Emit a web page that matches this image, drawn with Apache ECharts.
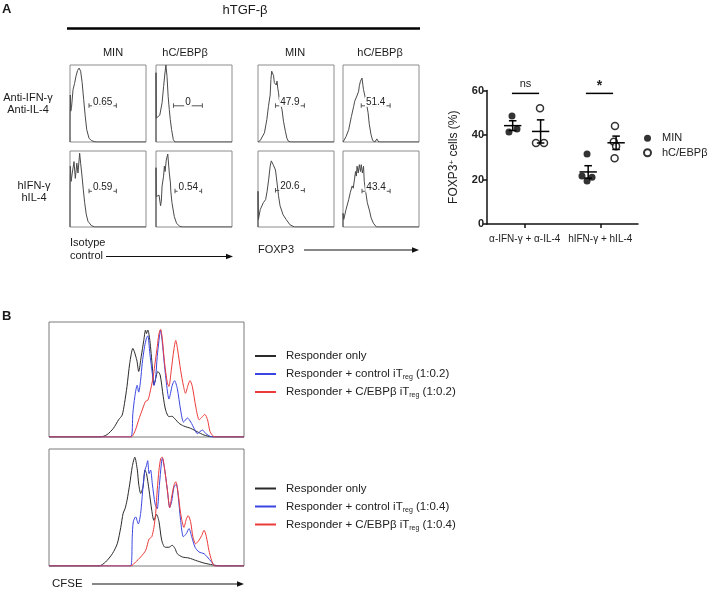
<!DOCTYPE html>
<html><head><meta charset="utf-8">
<script src="https://cdn.jsdelivr.net/npm/echarts@6/dist/echarts.min.js"></script>
<style>html,body{margin:0;padding:0;background:#fff}#c{width:709px;height:590px}</style>
</head><body><div id="c"></div>
<script>
const FONT = '"Liberation Sans", Arial, Helvetica, sans-serif';

// ---------- Panel A: histogram data (channel 0-100, % of max 0-100) ----------
const histIsoMinA = [[0,0],[0,31],[0.4,61],[1,40],[2,45],[4,68],[6,76],[8,86],[10,93],[12,96],[13,95],[14,92],[16,77],[18,55],[20,34],[22,16],[25,5],[28,2],[32,0.5],[35,0],[100,0]];
const histIsoCebpA = [[0,0],[0,90],[0.4,31],[3,33],[5,35],[8,51],[10,72],[11.5,87],[13,100],[14.5,85],[16,59],[17.5,42],[18.8,29],[20.5,16],[22.8,3],[25,0],[100,0]];
const histFoxMinA = [[0,0],[3,2],[8.5,12],[11.6,29],[13.7,46],[16,61],[17,81],[18,92],[19.5,94],[20.5,86],[21.5,77],[23,79],[24,74],[25,79],[26,70],[27,64],[28,55],[30,48],[31.6,42],[33.5,27],[36,14],[38,5],[40,1],[43,0],[100,0]];
const histFoxCebpA = [[0,0],[4,7],[7.5,16],[11,33],[14,46],[15.4,53],[17,51],[18.8,61],[20.6,66],[21.5,73],[23,79],[25,83],[26.3,73],[27,68],[28.3,70],[29.8,55],[31.6,46],[33,38],[34.6,23],[36.8,10],[39,2],[42,0],[44.5,4],[47,0],[100,0]];
const histIsoMinB = [[0,0],[0,49],[0.4,80],[1.5,60],[3,71],[5.3,86],[7,64],[9,84],[10.5,71],[12.7,97],[14,84],[15.8,67],[17.5,49],[19.3,32],[21.5,16],[23.7,7.5],[28,2],[32.5,0],[100,0]];
const histIsoCebpB = [[0,0],[0,78],[0.4,40],[3,41],[4,42],[6,28],[7,34],[8,54],[10,67],[11,80],[12,73],[13.5,88],[15.5,96],[17.5,71],[19,58],[19.5,47],[20,49],[21,32],[24,14],[27,5],[31,1],[35,0],[100,0]];
const histFoxMinB = [[0,0],[0,47],[0.5,10],[3,23],[7,32],[10,36],[12,47],[14,62],[16,80],[17.5,87],[19,88.5],[20,82],[21.5,84],[23,75],[24,67],[25.5,54],[27,41],[29,28],[33,16],[37,10],[42,3],[48,0],[100,0]];
const histFoxCebpB = [[0,0],[0,18],[1,10],[4,23],[7.5,36],[9.5,45],[12,54],[13.5,51],[15,62],[16.5,73],[17.5,67],[18.5,80],[20,71],[21.5,82],[23,73],[24,82],[25.5,71],[27,80],[28,60],[29.5,49],[30.5,42],[32,32],[35,21],[37,12],[40,5],[44,0],[100,0]];
const histA = [histIsoMinA, histIsoCebpA, histFoxMinA, histFoxCebpA, histIsoMinB, histIsoCebpB, histFoxMinB, histFoxCebpB];
const gateLabels = ['0.65','0','47.9','51.4','0.59','0.54','20.6','43.4'];
const gateStart = [25,23,23,24,25,25,23,25];
const gateEnd = [61,61,61,62,61,60,61,62];
const gateLevel = [47,47,47,47,47,47,48,47];
const colHeaders = ['MIN','hC/EBPβ','MIN','hC/EBPβ'];
const rowLabels = [['Anti-IFN-γ','Anti-IL-4'],['hIFN-γ','hIL-4']];

// ---------- Panel A: scatter ----------
const groups = ['α-IFN-γ + α-IL-4','hIFN-γ + hIL-4'];
const minValues = [[48.5,41.3,42.7],[31.5,21.6,21.0,19.3]];
const cebpValues = [[52.0,36.4,36.4],[44.0,37.0,35.0,29.5]];
const minMean = [44.2,23.4];
const minSem = [2.2,2.8];
const cebpMean = [41.6,36.5];
const cebpSem = [5.2,3.0];
const sigLabels = ['ns','*'];
const sigLevel = [58.7,58.7];
const yMin = 0, yMax = 60, yStep = 20;

// ---------- Panel B: CFSE histograms ----------
const cfseBlack1 = [[0,0],[26.3,0],[29.7,2],[33,7.5],[35.7,15],[37.5,19],[38.7,29],[40,44],[41.4,64],[43,77],[45,67],[46,57],[47.3,70],[48.6,84],[49.5,93],[50,90],[50.7,93],[51.7,84],[53,61],[53.8,45],[54.6,50],[55.8,57],[57,54],[58.6,35],[59.8,23.5],[61.5,17.7],[63,18],[65,15],[66.6,12],[69,9.6],[72.7,7.5],[76,4.6],[79.5,1.7],[83,0.3],[86,0],[100,0]];
const cfseBlue1 = [[0,0],[42,0],[43,20.6],[44,35],[45.2,45],[46,39],[47,49.6],[47.8,64],[49,78.5],[50,86],[50.7,88],[51.7,72.8],[53,55],[53.8,45],[54.6,50],[55.5,70],[56.4,84],[57.2,93],[58,84],[59.3,61],[60.7,40],[61.5,33],[63.2,45],[64.4,49],[65.8,42],[67.5,23.5],[69,13],[71,16.5],[72.7,13],[74.4,7.5],[76,3],[78.7,6],[80.4,3],[83,0.3],[86,0],[100,0]];
const cfseRed1 = [[0,0],[42,0],[44.3,6],[46,15],[47.8,23.5],[49.5,31],[50.7,32],[51.7,38],[53.4,52],[54.6,67],[55.5,78.5],[56.4,90],[57.2,93.6],[58,87],[59.3,64],[60.7,47],[61.5,44],[62.7,58],[64,75.6],[65,84],[66,75.6],[67.5,58],[69,44],[70,38],[71.3,45],[72.3,49],[73.5,44],[75.3,26],[77,15],[78.7,17.7],[79.9,19.7],[81.3,15],[82.6,4.6],[84.4,0.5],[86,0],[100,0]];
const cfseBlack2 = [[0,0],[25.6,0],[29,3.4],[32.5,10.5],[35,19],[36.8,33],[38,45],[39,49],[40,56],[41.4,70],[42.7,85],[44,93],[45.3,82],[46,70],[47,62],[48.2,67.5],[49.2,82],[50,79],[51.3,65],[52.7,47.6],[53.8,39],[55.2,44],[56.4,38],[57.8,22],[59.5,16],[61.5,16],[63.2,17.7],[64.6,15],[65.8,10.5],[68.4,7.7],[71.8,6.8],[75.2,4.8],[79.5,2.5],[83.8,1],[88,0],[100,0]];
const cfseBlue2 = [[0,0],[41.9,0],[42.7,25],[43.2,37.6],[44.4,42],[45.8,36],[47,45],[48.2,67.5],[49.2,82],[50,86],[50.6,90],[51.3,79],[52.1,82],[53,70],[54.4,53],[55.5,49],[56.4,65],[57.3,82],[58.1,92],[59.1,85],[60.7,65],[61.9,50],[62.9,55],[64.1,67.5],[65.3,70],[66.3,59],[67.5,39],[68.9,25],[70.4,27.6],[71.8,32],[73.2,25],[74.9,16],[76.9,12],[79.5,10.5],[81.2,7.7],[83.4,3.4],[85.5,0],[100,0]];
const cfseRed2 = [[0,0],[41.9,0],[44.4,3.4],[47,7.7],[49.6,13.4],[51.3,23],[52.7,25],[53.8,33],[54.7,45],[55.5,65],[56.4,82],[57.3,92],[58.1,93],[59.1,85],[60.7,65],[61.9,50],[62.9,59],[64.1,69],[65,72],[66,65],[67.5,45],[69.2,33],[70.4,40],[71.4,43],[72.6,38],[73.8,25],[75.2,19],[76.9,22],[78.3,26],[79.5,30.5],[80.7,25],[82,13.4],[83.4,4.8],[85,0],[100,0]];
const legendB1 = ['Responder only','Responder + control iTreg (1:0.2)','Responder + C/EBPβ iTreg (1:0.2)'];
const legendB2 = ['Responder only','Responder + control iTreg (1:0.4)','Responder + C/EBPβ iTreg (1:0.4)'];

// ---------- layout (not data) ----------
const boxA = [[70,65,77],[156,65,77],[258,65,77],[343,65,77],[70,151,76],[156,151,76],[258,151,76],[343,151,76]];
const colX = [113,185,295,380];
const minJitter = [[-0.169,-0.209,-0.103],[-0.175,-0.242,-0.109,-0.175]];
const cebpJitter = [[0.202,0.149,0.255],[0.195,0.18,0.21,0.19]];
const minMeanOff = -0.16, cebpMeanOff = 0.21, meanHalf = 0.115, capHalf = 0.05;
const sigStart = [0.33,1.31], sigEnd = [0.69,1.67];
const BLACK = '#2a2a2a', BLUE = '#3b46e0', RED = '#ec3a3a';

const grids = [], xAxes = [], yAxes = [], series = [];
boxA.forEach((b,i) => {
  grids.push({left:b[0], top:b[1], width:76, height:b[2], show:true, borderColor:'#8c8c8c', borderWidth:1, backgroundColor:'rgba(0,0,0,0)'});
});
grids.push({left:49, top:322, width:195, height:115, show:true, borderColor:'#7a7a7a', borderWidth:1, backgroundColor:'rgba(0,0,0,0)'});
grids.push({left:49, top:449, width:195, height:117, show:true, borderColor:'#7a7a7a', borderWidth:1, backgroundColor:'rgba(0,0,0,0)'});
grids.push({left:487, top:90.5, width:151, height:133.5, show:false});
for (let i=0;i<10;i++){
  xAxes.push({type:'value', gridIndex:i, min:0, max:100, show:false});
  yAxes.push({type:'value', gridIndex:i, min:0, max:100, show:false});
}
xAxes.push({type:'category', gridIndex:10, data:groups, boundaryGap:true,
  axisLine:{show:true, lineStyle:{color:'#111', width:1.5}},
  axisTick:{show:true, alignWithLabel:true, length:4, lineStyle:{color:'#111', width:1.5}},
  axisLabel:{fontSize:10, color:'#222', fontFamily:FONT, margin:10, interval:0}, splitLine:{show:false}});
xAxes.push({type:'value', gridIndex:10, min:0, max:2, show:false});
yAxes.push({type:'value', gridIndex:10, min:yMin, max:yMax, interval:yStep,
  axisLine:{show:true, lineStyle:{color:'#111', width:1.5}},
  axisTick:{show:true, length:4, lineStyle:{color:'#111', width:1.5}},
  axisLabel:{fontSize:11, fontWeight:'bold', color:'#222', fontFamily:FONT, margin:3},
  splitLine:{show:false},
  name:'FOXP3{sup|+} cells (%)', nameLocation:'middle', nameGap:27, nameRotate:90,
  nameTextStyle:{fontSize:12, color:'#222', fontFamily:FONT, rich:{sup:{fontSize:8, verticalAlign:'top', lineHeight:8, fontFamily:FONT, color:'#222'}}}});

// Panel A histograms + gates
histA.forEach((h,i) => {
  series.push({type:'line', xAxisIndex:i, yAxisIndex:i, data:h, symbol:'none', silent:true,
    lineStyle:{color:'#4a4a4a', width:1}, z:2});
  series.push({type:'custom', xAxisIndex:i, yAxisIndex:i, silent:true, z:3,
    data:[[gateStart[i], gateEnd[i], gateLevel[i]]],
    renderItem:(params, api) => {
      const p1 = api.coord([api.value(0), api.value(2)]);
      const p2 = api.coord([api.value(1), api.value(2)]);
      const st = {stroke:'#555', lineWidth:1};
      return {type:'group', children:[
        {type:'line', shape:{x1:p1[0], y1:p1[1], x2:p2[0], y2:p2[1]}, style:st},
        {type:'line', shape:{x1:p1[0], y1:p1[1]-2.5, x2:p1[0], y2:p1[1]+2}, style:st},
        {type:'line', shape:{x1:p2[0], y1:p2[1]-2.5, x2:p2[0], y2:p2[1]+2}, style:st},
        {type:'text', style:{text:gateLabels[i], x:(p1[0]+p2[0])/2, y:p1[1]+1, align:'center', verticalAlign:'bottom',
          textAlign:'center', textVerticalAlign:'bottom', font:'10px '+FONT, fill:'#222', backgroundColor:'#fff', padding:[0,1]}}
      ]};
    }});
});

// Panel B
[[cfseBlack1,cfseBlue1,cfseRed1,legendB1,8],[cfseBlack2,cfseBlue2,cfseRed2,legendB2,9]].forEach(set => {
  const cols = [BLACK, BLUE, RED];
  for (let k=0;k<3;k++){
    series.push({type:'line', name:set[3][k], xAxisIndex:set[4], yAxisIndex:set[4], data:set[k],
      symbol:'none', smooth:0.25, silent:true, itemStyle:{color:cols[k]}, lineStyle:{color:cols[k], width:1}, z:2+k});
  }
});

// Scatter
const minPts = [], cebpPts = [];
minValues.forEach((g,gi) => g.forEach((v,k) => minPts.push([gi+0.5+minJitter[gi][k], v])));
cebpValues.forEach((g,gi) => g.forEach((v,k) => cebpPts.push([gi+0.5+cebpJitter[gi][k], v])));
series.push({type:'scatter', name:'MIN', xAxisIndex:11, yAxisIndex:10, data:minPts, symbolSize:7,
  itemStyle:{color:'#000'}, z:2, silent:true});
series.push({type:'scatter', name:'hC/EBPβ', xAxisIndex:11, yAxisIndex:10, data:cebpPts, symbolSize:7,
  itemStyle:{color:'#fff', borderColor:'#000', borderWidth:1.5}, z:2, silent:true});
const errData = [];
minMean.forEach((m,gi) => errData.push([gi+0.5+minMeanOff, m, minSem[gi]]));
cebpMean.forEach((m,gi) => errData.push([gi+0.5+cebpMeanOff, m, cebpSem[gi]]));
series.push({type:'custom', xAxisIndex:11, yAxisIndex:10, data:errData, silent:true, z:4, clip:false,
  encode:{x:0, y:1},
  renderItem:(params, api) => {
    const x = api.value(0), m = api.value(1), s = api.value(2);
    const a = api.coord([x-meanHalf, m]), b = api.coord([x+meanHalf, m]);
    const t = api.coord([x, m+s]), d = api.coord([x, m-s]);
    const c1 = api.coord([x-capHalf, m+s]), c2 = api.coord([x+capHalf, m+s]);
    const e1 = api.coord([x-capHalf, m-s]), e2 = api.coord([x+capHalf, m-s]);
    const st = {stroke:'#000', lineWidth:1.5};
    return {type:'group', children:[
      {type:'line', shape:{x1:a[0], y1:a[1], x2:b[0], y2:b[1]}, style:st},
      {type:'line', shape:{x1:t[0], y1:t[1], x2:d[0], y2:d[1]}, style:st},
      {type:'line', shape:{x1:c1[0], y1:c1[1], x2:c2[0], y2:c2[1]}, style:st},
      {type:'line', shape:{x1:e1[0], y1:e1[1], x2:e2[0], y2:e2[1]}, style:st}
    ]};
  }});
series.push({type:'custom', xAxisIndex:11, yAxisIndex:10, silent:true, z:4, clip:false,
  data:sigLabels.map((s,i) => [sigStart[i], sigEnd[i], sigLevel[i]]),
  renderItem:(params, api) => {
    const p1 = api.coord([api.value(0), api.value(2)]);
    const p2 = api.coord([api.value(1), api.value(2)]);
    const lab = sigLabels[params.dataIndex];
    const star = lab === '*';
    return {type:'group', children:[
      {type:'line', shape:{x1:p1[0], y1:p1[1], x2:p2[0], y2:p2[1]}, style:{stroke:'#000', lineWidth:1.5}},
      {type:'text', style:{text:lab, x:(p1[0]+p2[0])/2, y:p1[1]-(star?0:4), align:'center', verticalAlign:'bottom',
        textAlign:'center', textVerticalAlign:'bottom', font:(star?'bold 14px ':'11px ')+FONT, fill:'#222'}}
    ]};
  }});

// Graphic texts and arrows
const txt = (text, x, y, size, opts={}) => ({type:'text', silent:true, style:{text, x, y,
  font:(opts.bold?'bold ':'')+size+'px '+FONT, fill:'#1a1a1a',
  align:opts.align||'center', textAlign:opts.align||'center', verticalAlign:'middle', textVerticalAlign:'middle'}});
const arrow = (x1, x2, y) => ([
  {type:'line', silent:true, shape:{x1, y1:y, x2:x2-4, y2:y}, style:{stroke:'#111', lineWidth:1}},
  {type:'polygon', silent:true, shape:{points:[[x2,y],[x2-7,y-2.8],[x2-7,y+2.8]]}, style:{fill:'#111'}}
]);
const graphics = [
  txt('A', 2, 9, 13, {bold:true, align:'left'}),
  txt('hTGF-β', 245, 10, 13),
  {type:'line', silent:true, shape:{x1:67, y1:28.5, x2:420, y2:28.5}, style:{stroke:'#000', lineWidth:2.5}},
  ...colHeaders.map((h,i) => txt(h, colX[i], 52.5, 11)),
  txt(rowLabels[0][0], 28, 97.5, 11), txt(rowLabels[0][1], 28, 110, 11),
  txt(rowLabels[1][0], 34, 185.5, 11), txt(rowLabels[1][1], 34, 198, 11),
  txt('Isotype', 70, 242.5, 11, {align:'left'}), txt('control', 70, 256, 11, {align:'left'}),
  ...arrow(106, 233, 256.5),
  txt('FOXP3', 258, 250, 11, {align:'left'}),
  ...arrow(304, 419, 250),
  txt('B', 2, 316.5, 13, {bold:true, align:'left'}),
  txt('CFSE', 52, 583.5, 11.5, {align:'left'}),
  ...arrow(92, 244, 584)
];

const subFmt = n => n.replace('iTreg', 'iT{sub|reg}');
const legB = (data, top) => ({data, orient:'vertical', left:255, top, padding:0, itemWidth:21, itemHeight:2, itemGap:4,
  icon:'rect', selectedMode:false, formatter:subFmt,
  textStyle:{fontSize:11.5, color:'#222', fontFamily:FONT, lineHeight:14, padding:[0,0,0,5],
    rich:{sub:{fontSize:7, verticalAlign:'bottom', lineHeight:8, fontFamily:FONT, color:'#222'}}}});

const option = {
  animation:false,
  backgroundColor:'#fff',
  grid:grids, xAxis:xAxes, yAxis:yAxes, series,
  legend:[
    {data:['MIN','hC/EBPβ'], orient:'vertical', left:643, top:131.5, padding:0, itemWidth:7, itemHeight:7, itemGap:1,
      icon:'circle', selectedMode:false, textStyle:{fontSize:11, color:'#222', fontFamily:FONT, lineHeight:13.5, padding:[0,0,0,6]}},
    legB(legendB1, 349),
    legB(legendB2, 481.5)
  ],
  graphic:graphics
};
const chart = echarts.init(document.getElementById('c'), null, {renderer:'canvas'});
chart.setOption(option);
</script></body></html>
